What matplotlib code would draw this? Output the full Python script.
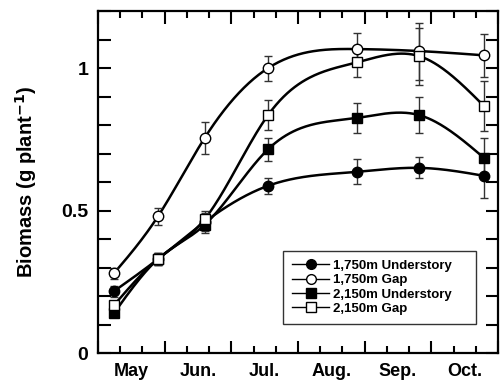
import numpy as np
import matplotlib
matplotlib.use("Agg")
import matplotlib.pyplot as plt

plt.rcParams['font.family'] = ['Liberation Sans', 'DejaVu Sans']
plt.rcParams['font.weight'] = 'bold'
plt.rcParams['mathtext.default'] = 'bf'

months = ["May", "Jun.", "Jul.", "Aug.", "Sep.", "Oct."]
# sampling time in months after 1 May
t = [0.24, 0.9, 1.6, 2.55, 3.88, 4.82, 5.79]

u1750 = [0.217, 0.33, 0.46, 0.587, 0.636, 0.65, 0.622]
u1750_err = [0.02, 0.02, 0.03, 0.028, 0.044, 0.037, 0.077]
g1750 = [0.28, 0.48, 0.755, 1.0, 1.067, 1.06, 1.045]
g1750_err = [0.02, 0.03, 0.055, 0.044, 0.056, 0.1, 0.075]
u2150 = [0.14, 0.33, 0.45, 0.715, 0.825, 0.835, 0.685]
u2150_err = [0.01, 0.02, 0.03, 0.04, 0.054, 0.063, 0.07]
g2150 = [0.168, 0.33, 0.47, 0.835, 1.02, 1.042, 0.867]
g2150_err = [0.01, 0.02, 0.03, 0.053, 0.05, 0.1, 0.087]

labels = ["1,750m Understory", "1,750m Gap", "2,150m Understory", "2,150m Gap"]


def natural_spline(x, y, xs):
    x = np.asarray(x, float); y = np.asarray(y, float)
    n = len(x)
    h = np.diff(x)
    A = np.zeros((n, n)); b = np.zeros(n)
    A[0, 0] = 1; A[-1, -1] = 1
    for i in range(1, n - 1):
        A[i, i - 1] = h[i - 1]
        A[i, i] = 2 * (h[i - 1] + h[i])
        A[i, i + 1] = h[i]
        b[i] = 3 * ((y[i + 1] - y[i]) / h[i] - (y[i] - y[i - 1]) / h[i - 1])
    c = np.linalg.solve(A, b)
    bb = np.zeros(n - 1); d = np.zeros(n - 1)
    for i in range(n - 1):
        bb[i] = (y[i + 1] - y[i]) / h[i] - h[i] * (2 * c[i] + c[i + 1]) / 3
        d[i] = (c[i + 1] - c[i]) / (3 * h[i])
    idx = np.clip(np.searchsorted(x, xs) - 1, 0, n - 2)
    dx = xs - x[idx]
    return y[idx] + bb[idx] * dx + c[idx] * dx ** 2 + d[idx] * dx ** 3


fig = plt.figure(figsize=(5.0, 3.85), dpi=100)
ax = fig.add_axes([0.196, 0.083, 0.8, 0.888])

series = [
    (u1750, u1750_err, 'o', 'black'),
    (g1750, g1750_err, 'o', 'white'),
    (u2150, u2150_err, 's', 'black'),
    (g2150, g2150_err, 's', 'white'),
]
xs = np.linspace(t[0], t[-1], 300)
handles = []
for (vals, err, mk, fc), lab in zip(series, labels):
    ax.plot(xs, natural_spline(t, vals, xs), color='black', lw=1.8, zorder=2)
    ax.errorbar(t, vals, yerr=err, fmt='none', ecolor='#333333', elinewidth=1.0,
                capsize=3, capthick=1.0, zorder=3)
    ax.plot(t, vals, linestyle='none', marker=mk, ms=7.5 if mk == 'o' else 7,
            mfc=fc, mec='black', mew=1.0, zorder=4)
    h, = ax.plot([], [], color='black', lw=1.0, marker=mk, ms=7 if mk == 'o' else 6.5,
                 mfc=fc, mec='black', mew=1.0, label=lab)
    handles.append(h)

ax.set_xlim(0, 6)
ax.set_ylim(0, 1.2)
ax.set_xticks(range(0, 7))
ax.set_xticks(np.arange(0, 6.01, 1 / 3), minor=True)
ax.set_xticklabels([])
ax.set_yticks([0, 0.5, 1])
ax.set_yticklabels(["0", "0.5", "1"])
ax.set_yticks(np.arange(0, 1.21, 0.1), minor=True)
ax.tick_params(axis='x', which='major', direction='in', length=9, width=1.5,
               top=True, bottom=True)
ax.tick_params(axis='x', which='minor', direction='in', length=5, width=1.5,
               top=True, bottom=True)
ax.tick_params(axis='y', which='both', direction='in', length=9, width=1.5,
               left=True, right=True, labelsize=14, pad=7)
for s in ax.spines.values():
    s.set_linewidth(1.6)

sec = ax.secondary_xaxis('bottom')
sec.set_xticks(np.arange(0.5, 6, 1), months)
sec.tick_params(length=0, labelsize=13, pad=7)
sec.spines['bottom'].set_visible(False)

ax.set_ylabel("Biomass (g plant$^{-1}$)", fontsize=14.5, fontweight='bold')
ax.yaxis.set_label_coords(-0.148, 0.5)

leg = ax.legend(handles=handles, loc='lower left', bbox_to_anchor=(0.4625, 0.085, 0.4825, 0.21),
                mode='expand', fontsize=9.5, frameon=True, fancybox=False, borderaxespad=0,
                handlelength=2.8, labelspacing=0.15, borderpad=0.7, handletextpad=0.3)
leg.get_frame().set_edgecolor('black')
leg.get_frame().set_linewidth(1.0)
for txt in leg.get_texts():
    txt.set_fontweight('bold')

fig.savefig("out.png", dpi=100)
